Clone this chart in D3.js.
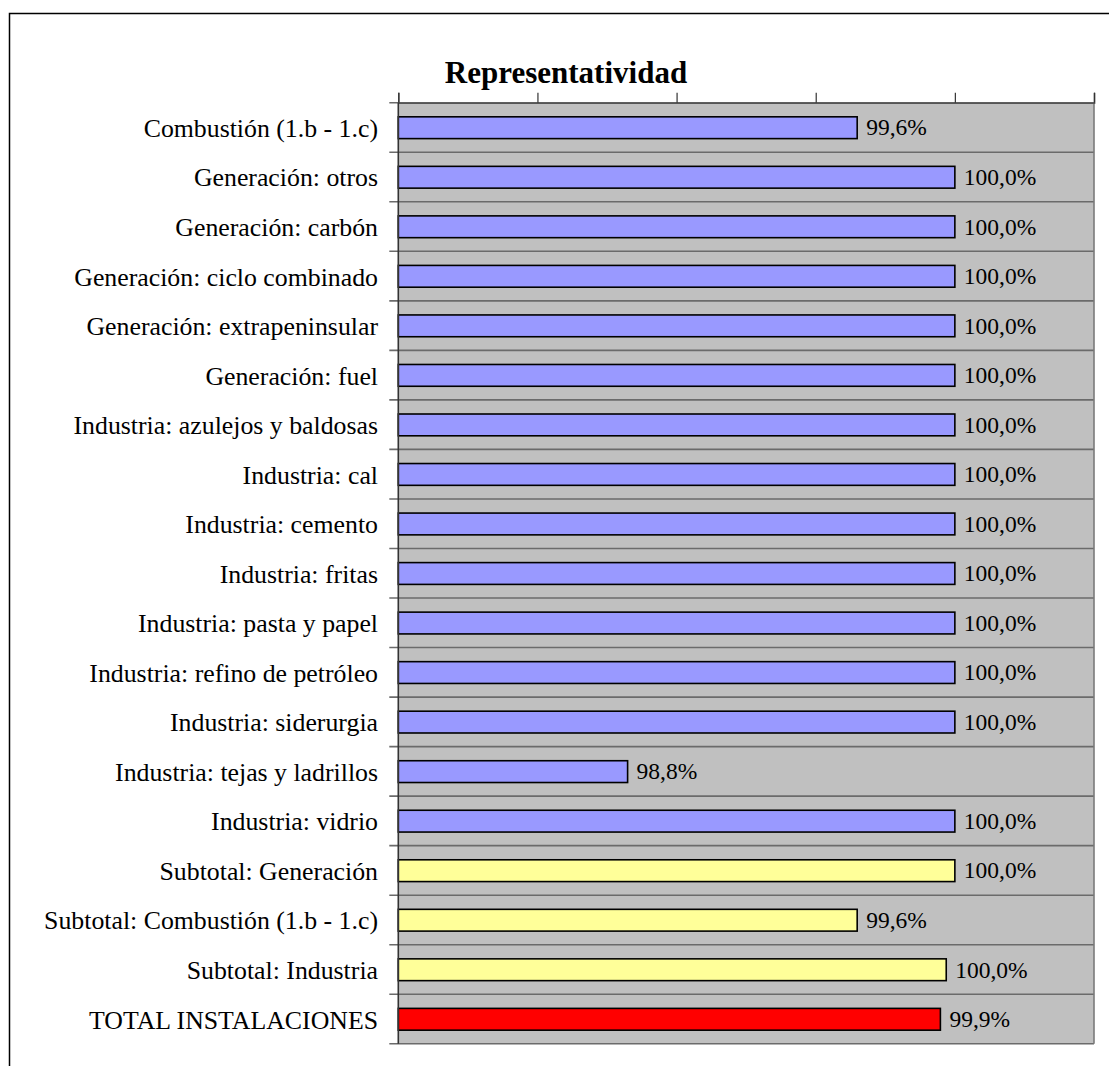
<!DOCTYPE html>
<html>
<head>
<meta charset="utf-8">
<script src="https://cdn.jsdelivr.net/npm/d3@7"></script>
<style>
  html, body { margin: 0; padding: 0; background: #ffffff; }
  svg { display: block; }
</style>
</head>
<body>
<svg id="chart" width="1109" height="1066"></svg>
<script>
// ---- data ----
const title = "Representatividad";
const categories = [
  "Combustión (1.b - 1.c)",
  "Generación: otros",
  "Generación: carbón",
  "Generación: ciclo combinado",
  "Generación: extrapeninsular",
  "Generación: fuel",
  "Industria: azulejos y baldosas",
  "Industria: cal",
  "Industria: cemento",
  "Industria: fritas",
  "Industria: pasta y papel",
  "Industria: refino de petróleo",
  "Industria: siderurgia",
  "Industria: tejas y ladrillos",
  "Industria: vidrio",
  "Subtotal: Generación",
  "Subtotal: Combustión (1.b - 1.c)",
  "Subtotal: Industria",
  "TOTAL INSTALACIONES"
];
const values = [99.649, 100, 100, 100, 100, 100, 100, 100, 100, 100, 100, 100, 100, 98.824, 100, 100, 99.649, 99.969, 99.948];
const groups = ["sector","sector","sector","sector","sector","sector","sector","sector","sector","sector","sector","sector","sector","sector","sector","subtotal","subtotal","subtotal","total"];
const xTicks = [98, 98.5, 99, 99.5, 100, 100.5];

// ---- layout ----
(function () {
const svg = d3.select("#chart");
const pLeft = 398.3, pRight = 1094, pTop = 102.7, pBottom = 1043.8;
const colors = { sector: "#9999FF", subtotal: "#FFFF99", total: "#FF0000" };
const font = "'Liberation Serif', 'Times New Roman', serif";

const x = d3.scaleLinear().domain([98, 100.5]).range([pLeft, pRight]);
const y = d3.scaleBand().domain(categories).range([pTop, pBottom]).padding(0);
const bw = y.bandwidth();

// outer frame
svg.append("rect").attr("x", 9.5).attr("y", 13.5).attr("width", 1110).attr("height", 1070)
  .attr("fill", "none").attr("stroke", "#000").attr("stroke-width", 1.5);

// plot background
svg.append("rect").attr("x", pLeft).attr("y", pTop).attr("width", pRight - pLeft).attr("height", pBottom - pTop)
  .attr("fill", "#C0C0C0");

// horizontal separators (row boundaries) with outward ticks
const bounds = categories.map(c => y(c)).concat([pBottom]);
svg.append("g").selectAll("line").data(bounds).join("line")
  .attr("x1", pLeft - 9).attr("x2", pRight)
  .attr("y1", d => d).attr("y2", d => d)
  .attr("stroke", "#6b6b6b").attr("stroke-width", 1.6);

// right border
svg.append("line").attr("x1", pRight).attr("x2", pRight).attr("y1", pTop).attr("y2", pBottom)
  .attr("stroke", "#7a7a7a").attr("stroke-width", 1.6);

// top axis (ticks only)
const xAxis = d3.axisTop(x).tickValues(xTicks).tickSize(10).tickFormat("");
const gx = svg.append("g").attr("transform", `translate(0,${pTop})`).call(xAxis);
gx.select(".domain").attr("stroke", "#555").attr("stroke-width", 1.6);
gx.selectAll(".tick line").attr("stroke", "#333").attr("stroke-width", 1.2);

// bars
svg.append("g").selectAll("rect").data(categories).join("rect")
  .attr("x", x(98))
  .attr("y", d => y(d) + bw * 0.285)
  .attr("width", (d, i) => x(values[i]) - x(98))
  .attr("height", bw * 0.44)
  .attr("fill", (d, i) => colors[groups[i]])
  .attr("stroke", "#000").attr("stroke-width", 1.6);

// left axis line
svg.append("line").attr("x1", pLeft).attr("x2", pLeft).attr("y1", pTop).attr("y2", pBottom)
  .attr("stroke", "#333").attr("stroke-width", 1.6);

// category labels
svg.append("g").selectAll("text").data(categories).join("text")
  .attr("x", 378)
  .attr("y", d => y(d) + bw / 2 + 9.5)
  .attr("text-anchor", "end")
  .attr("font-family", font).attr("font-size", 25.8)
  .attr("fill", "#000")
  .text(d => d);

// value labels
const fmt = v => v.toFixed(1).replace(".", ",") + "%";
svg.append("g").selectAll("text").data(categories).join("text")
  .attr("x", (d, i) => x(values[i]) + 9)
  .attr("y", d => y(d) + bw / 2 + 8)
  .attr("font-family", font).attr("font-size", 23.5)
  .attr("fill", "#000")
  .text((d, i) => fmt(values[i]));

// title
svg.append("text").attr("x", 566).attr("y", 83)
  .attr("text-anchor", "middle")
  .attr("font-family", font).attr("font-size", 31).attr("font-weight", "bold")
  .text(title);
})();
</script>
</body>
</html>
